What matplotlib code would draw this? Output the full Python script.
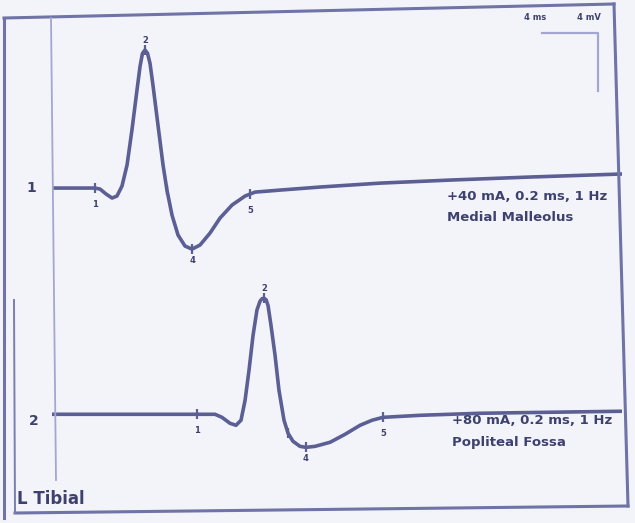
import matplotlib.pyplot as plt
from matplotlib.lines import Line2D

# trace 1 (Medial Malleolus), time in ms, amplitude in mV
t1 = [0, 3.07, 3.43, 3.86, 4.29, 4.64, 5.0, 5.36, 5.71, 6.07, 6.29, 6.46, 6.64, 6.82, 7.0, 7.21,
      7.57, 7.93, 8.21, 8.57, 9.0, 9.5, 10.0, 10.57, 11.29, 12.0, 12.86, 13.79, 14.5,
      16.29, 19.14, 23.43, 28.43, 34.14, 40.71]
v1 = [0, 0, -0.07, -0.41, -0.69, -0.55, 0.14, 1.59, 4.0, 6.76, 8.4, 9.28, 9.52, 9.3, 8.6, 7.10,
      4.34, 1.59, -0.14, -1.86, -3.24, -4.0, -4.21, -3.93, -3.10, -2.07, -1.17, -0.55, -0.28,
      -0.14, 0.07, 0.34, 0.55, 0.76, 0.97]

# trace 2 (Popliteal Fossa)
t2 = [0, 10.36, 11.64, 12.14, 12.71, 13.14, 13.5, 13.79, 14.07, 14.36, 14.64, 14.86, 15.0, 15.14,
      15.29, 15.43, 15.64, 15.93, 16.21, 16.57, 16.86, 17.21, 17.71, 18.14, 18.79, 19.86, 20.93,
      22.0, 22.86, 23.64, 26.29, 30.57, 35.57, 40.71]
v2 = [0, 0, 0, -0.21, -0.62, -0.76, -0.41, 0.97, 3.03, 5.45, 7.2, 7.8, 7.97, 8.0,
      7.9, 7.5, 6.14, 4.07, 1.66, -0.41, -1.31, -1.86, -2.21, -2.28, -2.21, -1.93, -1.38,
      -0.76, -0.41, -0.21, -0.07, 0.07, 0.14, 0.21]

# marker latencies (ms) for points 1..5
marks1 = [3.07, 6.64, 8.21, 10.0, 14.14]
marks2 = [10.36, 15.14, 16.86, 18.14, 23.64]

stim1 = ['+40 mA, 0.2 ms, 1 Hz', 'Medial Malleolus']
stim2 = ['+80 mA, 0.2 ms, 1 Hz', 'Popliteal Fossa']
nerve = 'L Tibial'

W, H = 635, 523
trace_col = '#5b5f94'
frame_col = '#6f73a6'
light_col = '#a3a7cf'
text_col = '#3e416f'
offset2 = -15.6

fig = plt.figure(figsize=(W / 100, H / 100), dpi=100, facecolor='#f3f4fa')

def px(x, y):
    # figure pixel (from top-left) -> figure fraction
    return x / W, 1 - y / H

# frame (photo is slightly skewed)
for (xa, ya), (xb, yb), c, lw in [((4, 18), (614, 4), frame_col, 2.2),
                                  ((614, 4), (628, 506), frame_col, 2.2),
                                  ((628, 506), (15, 513), frame_col, 2.2),
                                  ((4, 18), (4, 518), frame_col, 2.2),
                                  ((14, 300), (15, 513), '#7a7eb0', 1.4),
                                  ((51, 18), (56, 480), light_col, 1.3)]:
    p0, p1 = px(xa, ya), px(xb, yb)
    fig.add_artist(Line2D([p0[0], p1[0]], [p0[1], p1[1]], color=c, lw=lw))

ax = fig.add_axes([52 / W, 1 - 510 / H, 570 / W, 498 / H])
ax.set_xlim(0, 40.71)
ax.set_ylim(-22.2, 12.14)
ax.axis('off')

ax.plot(t1, v1, color=trace_col, lw=2.6, solid_capstyle='round', solid_joinstyle='round')
ax.plot(t2, [v + offset2 for v in v2], color=trace_col, lw=2.6,
        solid_capstyle='round', solid_joinstyle='round')

def value_at(t, ts, vs):
    for i in range(len(ts) - 1):
        if ts[i] <= t <= ts[i + 1]:
            f = (t - ts[i]) / (ts[i + 1] - ts[i])
            return vs[i] + f * (vs[i + 1] - vs[i])
    return vs[-1]

label_off = [-12, 7, None, -8, -12]
for marks, ts, vs, off in [(marks1, t1, v1, 0), (marks2, t2, v2, offset2)]:
    for k, m in enumerate(marks):
        y = value_at(m, ts, vs) + off
        ax.plot([m], [y], marker='|', ms=7, mew=1.6, color=trace_col)
        if label_off[k] is not None:
            ax.annotate(str(k + 1), (m, y), xytext=(0, label_off[k]), textcoords='offset points',
                        ha='center', va='center', fontsize=6, fontweight='bold', color=text_col)

# stimulus annotations
ax.text(28.2, -0.15, stim1[0], fontsize=9.5, fontweight='bold', color=text_col, va='top')
ax.text(28.2, -1.6, stim1[1], fontsize=9.5, fontweight='bold', color=text_col, va='top')
ax.text(28.6, offset2 - 0.0, stim2[0], fontsize=9.5, fontweight='bold', color=text_col, va='top')
ax.text(28.6, offset2 - 1.5, stim2[1], fontsize=9.5, fontweight='bold', color=text_col, va='top')

# scale bar 4 ms / 4 mV
ax.plot([35.0, 39.0, 39.0], [10.69, 10.69, 6.69], color=light_col, lw=1.6)
fig.text(*px(535, 17), '4 ms', fontsize=6, fontweight='bold', color=text_col, ha='center', va='center')
fig.text(*px(589, 17), '4 mV', fontsize=6, fontweight='bold', color=text_col, ha='center', va='center')

# channel numbers and nerve name
fig.text(*px(31, 188), '1', fontsize=10, fontweight='bold', color=text_col, ha='center', va='center')
fig.text(*px(34, 421), '2', fontsize=10, fontweight='bold', color=text_col, ha='center', va='center')
fig.text(*px(17, 499), nerve, fontsize=12, fontweight='bold', color=text_col, ha='left', va='center')

fig.savefig('out.png', dpi=100, facecolor=fig.get_facecolor())
